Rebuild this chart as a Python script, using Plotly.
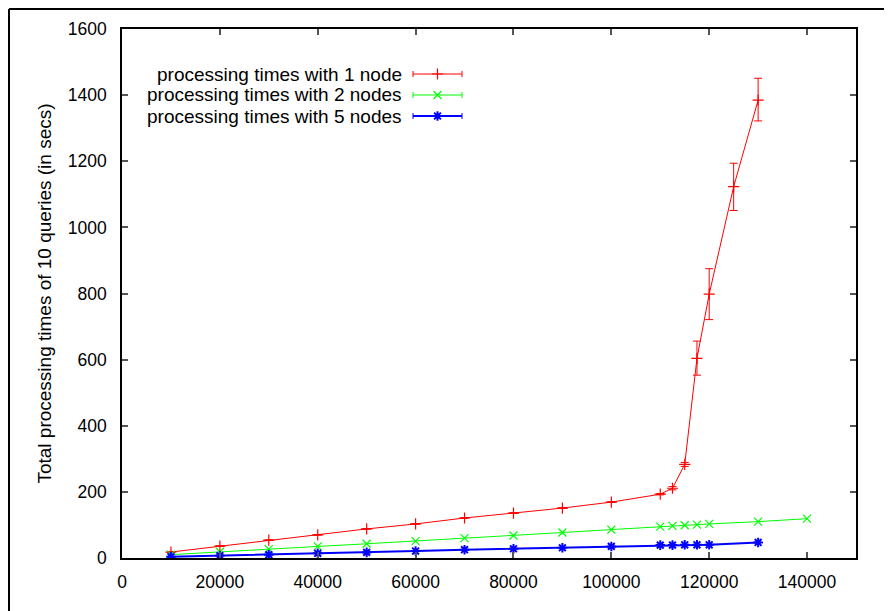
import plotly.graph_objects as go

# ---- data ----
x_red = [10000, 20000, 30000, 40000, 50000, 60000, 70000, 80000, 90000, 100000,
         110000, 112500, 115000, 117500, 120000, 125000, 130000]
y_red = [18, 36, 54, 70, 88, 103, 121, 136, 151, 169,
         193, 211, 283, 604, 798, 1123, 1385]
err_red_plus = [1, 1, 1, 1, 1, 1, 1, 1, 1, 1, 2, 5, 6, 52, 77, 71, 66]
err_red_minus = [1, 1, 1, 1, 1, 1, 1, 1, 1, 1, 2, 5, 6, 51, 77, 72, 63]

x_green = [10000, 20000, 30000, 40000, 50000, 60000, 70000, 80000, 90000, 100000,
           110000, 112500, 115000, 117500, 120000, 130000, 140000]
y_green = [10, 19, 27, 35, 43, 51, 60, 68, 77, 86,
           95, 97, 99, 101, 103, 110, 119]

x_blue = [10000, 20000, 30000, 40000, 50000, 60000, 70000, 80000, 90000, 100000,
          110000, 112500, 115000, 117500, 120000, 130000]
y_blue = [4, 7, 10, 14, 17, 21, 25, 28, 31, 35,
          39, 39, 40, 40, 40, 47]

series_names = ["processing times with 1 node",
                "processing times with 2 nodes",
                "processing times with 5 nodes"]
series_colors = ["#ff0000", "#00ff00", "#0000ff"]
series_symbols = ["cross-thin-open", "x-thin-open", "asterisk-open"]
series_widths = [1, 1, 2]
marker_widths = [1.2, 1.2, 2]

x_ticks = [0, 20000, 40000, 60000, 80000, 100000, 120000, 140000]
y_ticks = [0, 200, 400, 600, 800, 1000, 1200, 1400, 1600]

FONT = "Liberation Sans, Arial, Helvetica, sans-serif"

# page body has an 8px margin; plot area target in window px: x 122..856, y 29..558
OFF = 8
W, H = 892 - OFF, 611 - OFF
ML, MT, MR, MB = 122 - OFF, 29 - OFF, 36, 53
PW, PH = W - ML - MR, H - MT - MB

fig = go.Figure()

fig.add_trace(go.Scatter(
    x=x_red, y=y_red, mode="lines+markers", name=series_names[0],
    line=dict(color=series_colors[0], width=series_widths[0]),
    marker=dict(symbol=series_symbols[0], size=8, color=series_colors[0],
                line=dict(color=series_colors[0], width=marker_widths[0])),
    error_y=dict(type="data", array=err_red_plus, arrayminus=err_red_minus,
                 color=series_colors[0], thickness=1, width=4),
    showlegend=False))
fig.add_trace(go.Scatter(
    x=x_green, y=y_green, mode="lines+markers", name=series_names[1],
    line=dict(color=series_colors[1], width=series_widths[1]),
    marker=dict(symbol=series_symbols[1], size=8, color=series_colors[1],
                line=dict(color=series_colors[1], width=marker_widths[1])),
    showlegend=False))
fig.add_trace(go.Scatter(
    x=x_blue, y=y_blue, mode="lines+markers", name=series_names[2],
    line=dict(color=series_colors[2], width=series_widths[2]),
    marker=dict(symbol=series_symbols[2], size=8, color=series_colors[2],
                line=dict(color=series_colors[2], width=marker_widths[2])),
    showlegend=False))

# ---- custom gnuplot-style key (text right, sample on the right) ----
def px_x(p):
    return (p - 122) / PW

def px_y(p):
    return (558 - p) / PH

key_y = [px_y(74), px_y(95), px_y(116)]
kx0, kx1 = px_x(413), px_x(462)
kxm = (kx0 + kx1) / 2
cap = 3 / PH
shapes = []
annotations = []
for name, col, sym, w, mw, yy in zip(series_names, series_colors, series_symbols,
                                     series_widths, marker_widths, key_y):
    shapes.append(dict(type="line", xref="paper", yref="paper",
                       x0=kx0, x1=kx1, y0=yy, y1=yy,
                       line=dict(color=col, width=w)))
    for xx in (kx0, kx1):
        shapes.append(dict(type="line", xref="paper", yref="paper",
                           x0=xx, x1=xx, y0=yy - cap, y1=yy + cap,
                           line=dict(color=col, width=1)))
    annotations.append(dict(xref="paper", yref="paper", x=px_x(404), y=yy,
                            xanchor="right", yanchor="middle", showarrow=False,
                            text=name, font=dict(family=FONT, size=19, color="black")))
    fig.add_trace(go.Scatter(
        x=[kxm], y=[yy], xaxis="x2", yaxis="y2", mode="markers",
        marker=dict(symbol=sym, size=8, color=col, line=dict(color=col, width=mw)),
        showlegend=False, hoverinfo="skip"))

# outer frame (top & left edges visible)
fx = px_x(9)
fy = px_y(9)
shapes.append(dict(type="line", xref="paper", yref="paper", x0=fx, x1=1.2,
                   y0=fy, y1=fy, line=dict(color="black", width=2)))
shapes.append(dict(type="line", xref="paper", yref="paper", x0=fx, x1=fx,
                   y0=fy, y1=-0.2, line=dict(color="black", width=2)))

axis_common = dict(showgrid=False, zeroline=False, showline=True, linecolor="black",
                   linewidth=1.5, mirror="allticks", ticks="inside", ticklen=6,
                   tickcolor="#555555", tickwidth=1.5,
                   tickfont=dict(family=FONT, size=17.5, color="black"))

fig.update_layout(
    width=W, height=H,
    margin=dict(l=ML, r=MR, t=MT, b=MB),
    paper_bgcolor="white", plot_bgcolor="white",
    xaxis=dict(range=[0, 150000], tickvals=x_ticks,
               ticktext=[str(v) for v in x_ticks], ticklabelstandoff=7,
               **axis_common),
    yaxis=dict(range=[0, 1600], tickvals=y_ticks,
               ticktext=[str(v) for v in y_ticks], ticklabelstandoff=10,
               title=dict(text="Total processing times of 10 queries (in secs)",
                          font=dict(family=FONT, size=19, color="black"),
                          standoff=11),
               **axis_common),
    xaxis2=dict(range=[0, 1], overlaying="x", visible=False, fixedrange=True),
    yaxis2=dict(range=[0, 1], overlaying="y", visible=False, fixedrange=True),
    shapes=shapes, annotations=annotations,
    showlegend=False,
)

fig.write_html("out.html")
